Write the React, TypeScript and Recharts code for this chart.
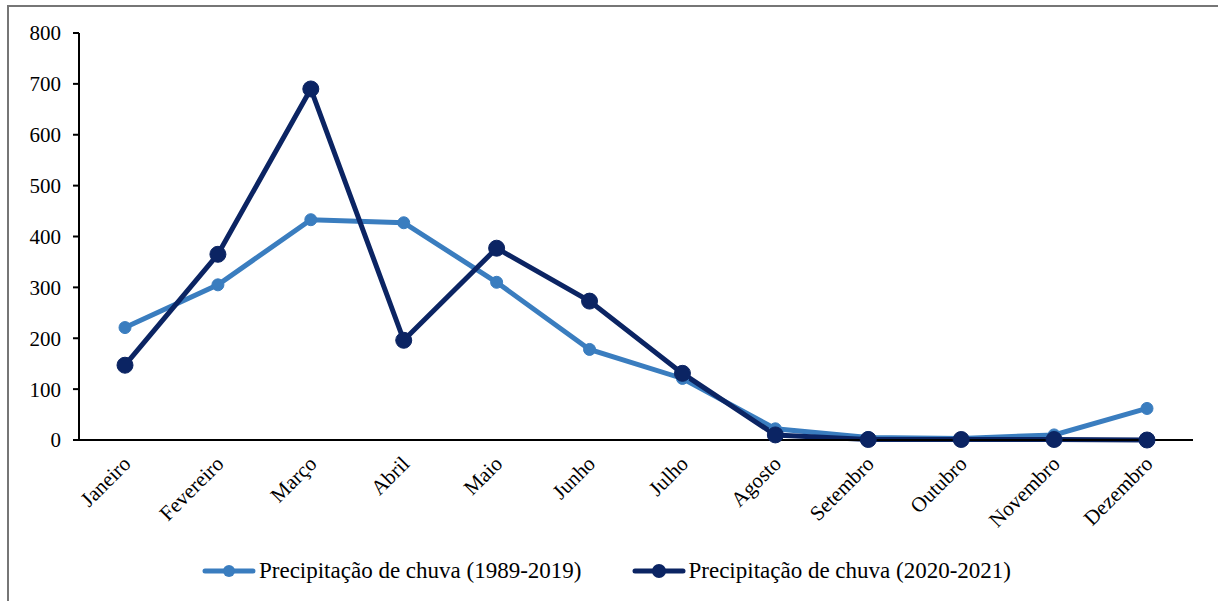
import { LineChart, Line, XAxis, YAxis, Legend } from 'recharts';

const months = [
    'Janeiro', 'Fevereiro', 'Março', 'Abril', 'Maio', 'Junho',
    'Julho', 'Agosto', 'Setembro', 'Outubro', 'Novembro', 'Dezembro'
];
const chuvaHistorica = [221, 305, 433, 427, 310, 178, 121, 22, 5, 3, 10, 62];
const chuvaRecente = [147, 365, 690, 196, 377, 273, 131, 10, 1, 1, 1, 0];
const yTicks = [0, 100, 200, 300, 400, 500, 600, 700, 800];

const COLORS = {
    historica: '#3a7dbf',
    recente: '#0b2463'
};

const FONT = 'Liberation Serif, Times New Roman, serif';

const data = months.map((m, i) => ({
    mes: m,
    historica: chuvaHistorica[i],
    recente: chuvaRecente[i]
}));

const MonthTick = (props: any) => {
    const { x, y, payload } = props;
    const tx = x + 7;
    const ty = y + 17;
    return (
        <text
            x={tx}
            y={ty}
            transform={`rotate(-45, ${tx}, ${ty})`}
            textAnchor="end"
            style={{ fontFamily: FONT }}
            fontSize={21}
            fill="#000"
        >
            {payload.value}
        </text>
    );
};

const LegendContent = () => {
    const items = [
        { label: 'Precipitação de chuva (1989-2019)', color: COLORS.historica, r: 6 },
        { label: 'Precipitação de chuva (2020-2021)', color: COLORS.recente, r: 7 }
    ];
    return (
        <div style={{
            display: 'flex',
            justifyContent: 'center',
            alignItems: 'center',
            gap: '50px',
            height: 40
        }}>
            {items.map((it) => (
                <div key={it.label} style={{ display: 'flex', alignItems: 'center', gap: '3px' }}>
                    <svg width={54} height={18}>
                        <line x1={3} y1={9} x2={51} y2={9} stroke={it.color} strokeWidth={5} strokeLinecap="round" />
                        <circle cx={27} cy={9} r={it.r} fill={it.color} />
                    </svg>
                    <span style={{ fontFamily: FONT, fontSize: 23, color: '#000' }}>{it.label}</span>
                </div>
            ))}
        </div>
    );
};

export default function App() {
    return (
        <div style={{ position: 'absolute', left: 0, top: 0, width: 1218, height: 601, background: '#fff', overflow: 'hidden', fontFamily: FONT }}>
            <div style={{
                position: 'absolute',
                left: 7,
                top: 5,
                width: 1230,
                height: 620,
                borderTop: '2px solid #767676',
                borderLeft: '2px solid #767676'
            }} />
            <div style={{ position: 'absolute', left: 0, top: 0 }}>
                <LineChart
                    width={1218}
                    height={601}
                    data={data}
                    margin={{ top: 33, right: 25, left: 20, bottom: 10 }}
                    style={{ fontFamily: FONT }}
                >
                    <XAxis
                        dataKey="mes"
                        interval={0}
                        padding={{ left: 46, right: 46 }}
                        tick={<MonthTick />}
                        tickLine={false}
                        axisLine={{ stroke: '#000', strokeWidth: 2 }}
                        height={111}
                    />
                    <YAxis
                        domain={[0, 800]}
                        ticks={yTicks}
                        interval={0}
                        width={59}
                        tickSize={6}
                        tickMargin={12}
                        tick={{ fill: '#000', fontSize: 21, style: { fontFamily: FONT } }}
                        axisLine={{ stroke: '#000', strokeWidth: 2 }}
                        tickLine={{ stroke: '#000', strokeWidth: 2 }}
                    />
                    <Legend verticalAlign="bottom" height={40} content={<LegendContent />} />
                    <Line
                        dataKey="historica"
                        name="Precipitação de chuva (1989-2019)"
                        stroke={COLORS.historica}
                        strokeWidth={5}
                        dot={{ r: 6, fill: COLORS.historica, stroke: COLORS.historica, strokeWidth: 1 }}
                        isAnimationActive={false}
                    />
                    <Line
                        dataKey="recente"
                        name="Precipitação de chuva (2020-2021)"
                        stroke={COLORS.recente}
                        strokeWidth={5}
                        dot={{ r: 8, fill: COLORS.recente, stroke: COLORS.recente, strokeWidth: 1 }}
                        isAnimationActive={false}
                    />
                </LineChart>
            </div>
        </div>
    );
}
